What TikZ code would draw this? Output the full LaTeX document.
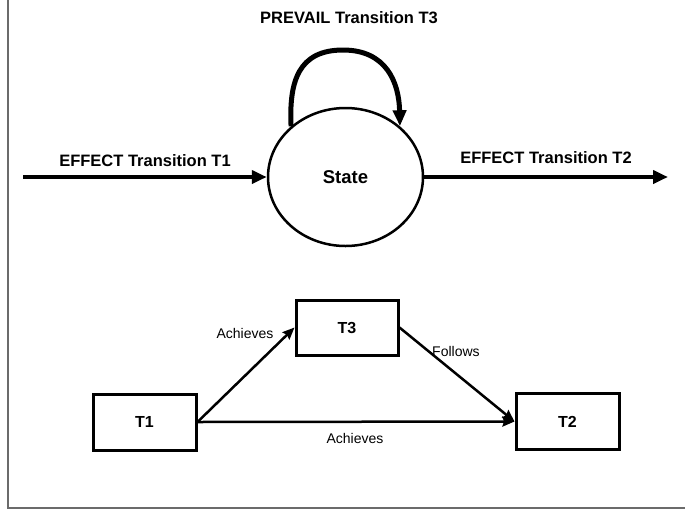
\documentclass[tikz,border=0pt]{standalone}
\usepackage{fontspec}
\setmainfont{Liberation Sans}
\usetikzlibrary{arrows.meta,shapes.geometric}

\tikzset{
  bigtxt/.style={font=\fontsize{16.5}{19}\selectfont\bfseries, inner sep=0pt},
  smalltxt/.style={font=\fontsize{14}{16}\selectfont, inner sep=0pt},
  tbox/.style={draw, line width=3pt, minimum width=103pt, minimum height=56pt,
    inner sep=0pt, font=\fontsize{16}{18}\selectfont\bfseries},
  thickarrow/.style={line width=4.5pt, -{Triangle[length=15pt,width=13pt]}},
  thinarrow/.style={line width=2.5pt, -{Stealth[length=12pt,width=10pt,inset=1.5pt]}},
}

\begin{document}
\begin{tikzpicture}[x=1pt,y=-1pt]
  \useasboundingbox (0,0) rectangle (685,512);

  % frame lines at the left and bottom
  \draw[line width=2pt, color=black!58] (8,0) -- (8,508) -- (685,508);

  % state with its transitions
  \node[draw, ellipse, line width=2.5pt, minimum width=155pt, minimum height=138pt,
        inner sep=0pt, font=\fontsize{18.5}{21}\selectfont\bfseries] (st) at (345.5,177) {State};

  \coordinate (inStart) at (23,177);
  \coordinate (outEnd) at (668,177);
  \coordinate (loopTop) at (343,50);
  \draw[thickarrow] (inStart) -- (st.west);
  \draw[thickarrow] (st.east) -- (outEnd);
  \draw[line width=5pt, -{Triangle[length=16pt,width=13pt]}]
    (st.137) .. controls (289,82) and (298,50) .. (loopTop)
             .. controls (386,50) and (399,82) .. (st.43);

  \node[bigtxt] (lt1) at (145,161) {EFFECT Transition T1};
  \node[bigtxt] (lt2) at (546,158) {EFFECT Transition T2};
  \node[bigtxt] (lt3) at (349,18) {PREVAIL Transition T3};

  % transition ordering
  \node[tbox] (t1) at (144.5,422) {T1};
  \node[tbox, minimum width=102pt, minimum height=55pt] (t3) at (347,327.5) {T3};
  \node[tbox] (t2) at (567.5,421.5) {T2};

  \draw[thinarrow] (t1.east) -- (t3.west);
  \draw[thinarrow] (t3.east) -- (t2.west);
  \draw[thinarrow] (t1.east) -- (t2.west);

  \node[smalltxt] (a1) at (245,333) {Achieves};
  \node[smalltxt, anchor=west] (f1) at (432,351) {Follows};
  \node[smalltxt] (a2) at (355,438) {Achieves};
\end{tikzpicture}
\end{document}
